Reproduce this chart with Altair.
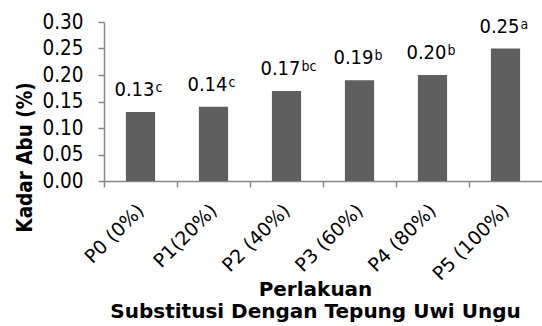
import altair as alt
import pandas as pd

categories = ["P0 (0%)", "P1(20%)", "P2 (40%)", "P3 (60%)", "P4 (80%)", "P5 (100%)"]
values = [0.13, 0.14, 0.17, 0.19, 0.20, 0.25]
letters = ["c", "c", "bc", "b", "b", "a"]
y_ticks = [0.0, 0.05, 0.10, 0.15, 0.20, 0.25, 0.30]

df = pd.DataFrame({
    "cat": categories,
    "val": values,
    "lab": [f"{v:.2f}" for v in values],
    "sup": letters,
})

FONT = "DejaVu Sans Condensed, DejaVu Sans"
W = 438
H = 159
step = W / 6

x = alt.X(
    "cat:N",
    sort=categories,
    scale=alt.Scale(paddingInner=0.6, paddingOuter=0.3),
    axis=alt.Axis(
        title=["Perlakuan", "Substitusi Dengan Tepung Uwi Ungu"],
        labelAngle=-45,
        labelAlign="right",
        labelBaseline="middle",
        labelFont="DejaVu Sans",
        labelFontSize=19,
        labelPadding=20,
        bandPosition=0.5,
        tickOffset=-step / 2,
        labelOffset=step / 2,
        tickSize=6,
        titleFont="DejaVu Sans",
        titleFontSize=20,
        titleX=211,
        titleY=114,
        titleAnchor="start",
        titleAlign="center",
        titleBaseline="alphabetic",
        titleLineHeight=22,
    ),
)
y = alt.Y(
    "val:Q",
    scale=alt.Scale(domain=[0, 0.3], nice=False),
    axis=alt.Axis(
        values=y_ticks,
        format=".2f",
        title="Kadar Abu (%)",
        tickSize=6,
        labelPadding=15,
        labelFont=FONT,
        labelFontSize=20.5,
        titleFont=FONT,
        titleFontSize=20.5,
        titleX=-79,
        titleY=135,
        titleAngle=-90,
        titleAlign="center",
        titleBaseline="middle",
        grid=False,
    ),
)

bars = alt.Chart(df).mark_bar(color="#5f5f5f").encode(x=x, y=y)
main = alt.Chart(df).mark_text(
    align="right", baseline="alphabetic", dx=14, dy=-16, fontSize=20, font=FONT, color="#000000"
).encode(x=x, y=y, text="lab:N")
sup = alt.Chart(df).mark_text(
    align="left", baseline="alphabetic", dx=15, dy=-20, fontSize=14, font=FONT, color="#000000"
).encode(x=x, y=y, text="sup:N")

chart = (
    alt.layer(bars, main, sup)
    .properties(
        width=W,
        height=H,
        autosize=alt.AutoSizeParams(type="none"),
        padding={"left": 104, "top": 22, "right": 0, "bottom": 145},
        background="white",
    )
    .configure_view(stroke=None)
    .configure_axis(
        domainColor="#868686",
        tickColor="#868686",
        domainWidth=1.5,
        tickWidth=1.5,
        labelColor="#000000",
        titleFontWeight="bold",
        titleColor="#000000",
        grid=False,
    )
)

chart.save("out.html", embed_options={"renderer": "svg", "actions": False})
